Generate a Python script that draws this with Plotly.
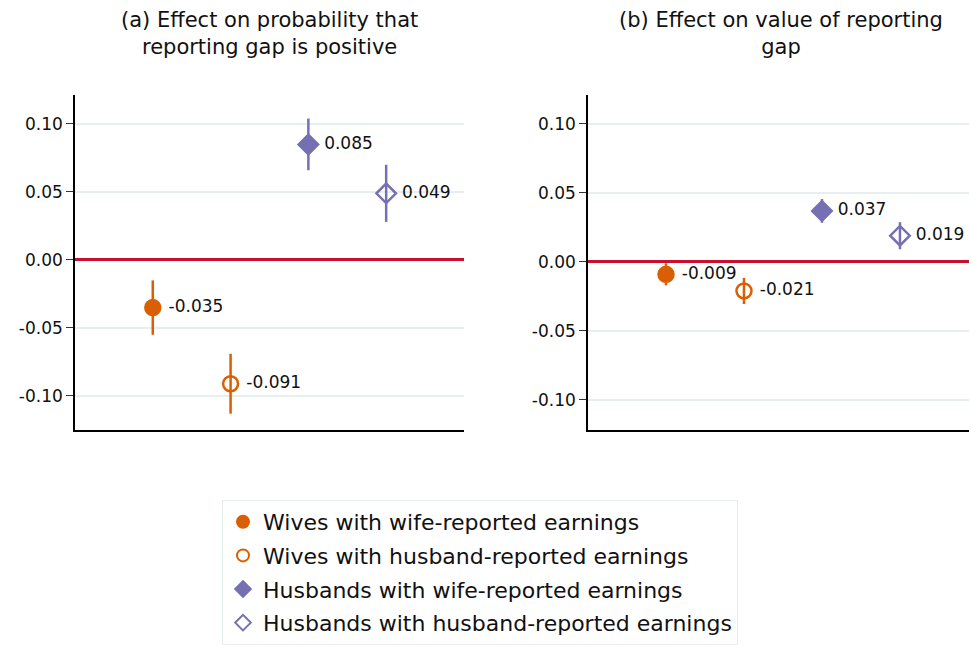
import plotly.graph_objects as go

# series names and x slots
series = ['Wives with wife-reported earnings',
          'Wives with husband-reported earnings',
          'Husbands with wife-reported earnings',
          'Husbands with husband-reported earnings']
xpos = [1, 2, 3, 4]

# panel (a): probability that reporting gap is positive
coef_a = [-0.035, -0.091, 0.085, 0.049]
ci_a = [0.020, 0.022, 0.019, 0.021]

# panel (b): value of reporting gap
coef_b = [-0.009, -0.021, 0.037, 0.019]
ci_b = [0.008, 0.0095, 0.0086, 0.0098]

ytick_vals = [-0.10, -0.05, 0.00, 0.05, 0.10]
ytick_text = ['-0.10', '-0.05', '0.00', '0.05', '0.10']

ORANGE = '#d95f02'
PURPLE = '#7570b3'
colors = [ORANGE, ORANGE, PURPLE, PURPLE]
symbols = ['circle', 'circle-open', 'diamond', 'diamond-open']
FONT = 'DejaVu Sans'

fig = go.Figure()

for panel, (coef, ci) in enumerate([(coef_a, ci_a), (coef_b, ci_b)]):
    xa = 'x' if panel == 0 else 'x2'
    ya = 'y' if panel == 0 else 'y2'
    for i in range(4):
        fig.add_trace(go.Scatter(
            x=[xpos[i]], y=[coef[i]],
            xaxis=xa, yaxis=ya,
            mode='markers+text',
            name=series[i],
            legendgroup=f'g{i}',
            showlegend=(panel == 0),
            text=['\u00a0' + f'{coef[i]:.3f}'],
            textposition='middle right',
            textfont=dict(family=FONT, size=17, color='#111'),
            marker=dict(symbol=symbols[i], size=15, color=colors[i],
                        line=dict(color=colors[i], width=2.5)),
            error_y=dict(type='data', array=[ci[i]], color=colors[i],
                         thickness=2.5, width=0),
            cliponaxis=False,
        ))

axis_common = dict(
    showline=True, linecolor='black', linewidth=1.5,
    showgrid=False, zeroline=False, ticks='', showticklabels=False,
)
yaxis_common = dict(
    showline=True, linecolor='black', linewidth=1.5,
    showgrid=True, gridcolor='#e6eff0', gridwidth=2,
    zeroline=True, zerolinecolor='#c8102e', zerolinewidth=2.5,
    ticks='outside', ticklen=7, tickwidth=1.2, tickcolor='#333',
    tickvals=ytick_vals, ticktext=ytick_text,
    tickfont=dict(family=FONT, size=17, color='#111'),
)

fig.update_layout(
    width=969, height=646,
    paper_bgcolor='white', plot_bgcolor='white',
    margin=dict(l=0, r=0, t=0, b=0, autoexpand=False),
    font=dict(family=FONT, color='#111'),
    xaxis=dict(axis_common, domain=[0.0774, 0.4788], range=[0, 5]),
    xaxis2=dict(axis_common, domain=[0.6068, 1.0], range=[0, 4.885]),
    yaxis=dict(yaxis_common, domain=[0.3344, 0.8529], range=[-0.125, 0.1213]),
    yaxis2=dict(yaxis_common, domain=[0.3344, 0.8529], range=[-0.1218, 0.121],
                anchor='x2'),
    showlegend=True,
    legend=dict(
        x=0.2291, y=0.226, xanchor='left', yanchor='top',
        bgcolor='white', bordercolor='#e8eeee', borderwidth=1,
        font=dict(family=FONT, size=22, color='#111'),
        itemsizing='constant', tracegroupgap=2,
    ),
    annotations=[
        dict(text='(a) Effect on probability that<br>reporting gap is positive',
             x=0.2786, y=0.9907, xref='paper', yref='paper',
             xanchor='center', yanchor='top', showarrow=False,
             font=dict(family=FONT, size=21, color='#111')),
        dict(text='(b) Effect on value of reporting<br>gap',
             x=0.806, y=0.9907, xref='paper', yref='paper',
             xanchor='center', yanchor='top', showarrow=False,
             font=dict(family=FONT, size=21, color='#111')),
    ],
)

# drop the default body margin so the figure fills the window
fig.write_html('out.html', config={'displayModeBar': False},
               post_script="document.body.style.margin = '0';")
